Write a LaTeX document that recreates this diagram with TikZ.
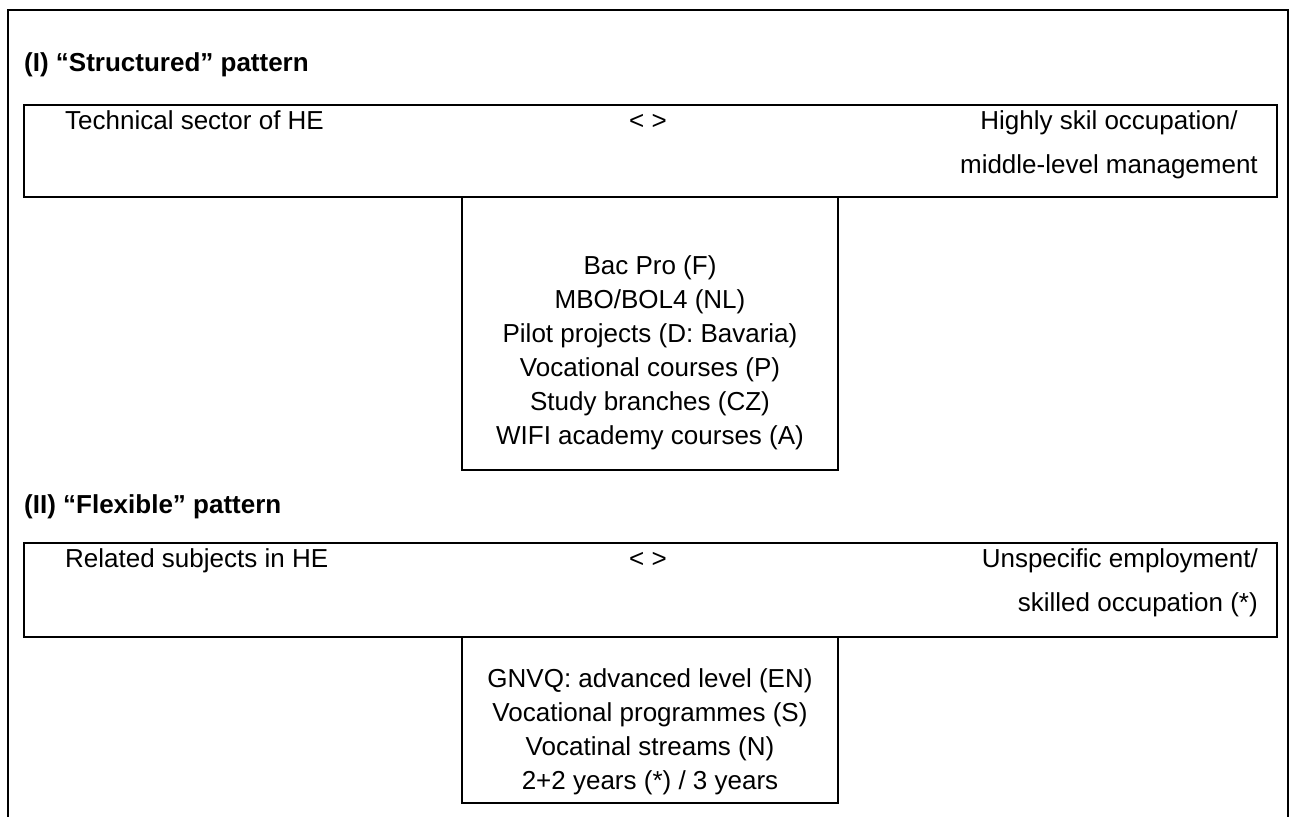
\documentclass[tikz,border=0pt]{standalone}
\usepackage{fontspec}
\setmainfont{Liberation Sans}
\begin{document}
\begin{tikzpicture}[x=1pt,y=-1pt,
  frame/.style={line width=2pt},
  panel/.style={draw, line width=1.5pt, rectangle, inner sep=0pt},
  txt/.style={inner sep=0pt, font=\fontsize{26}{34}\selectfont},
  head/.style={inner sep=0pt, anchor=base west, font=\fontsize{26}{34}\selectfont\bfseries},
]
\useasboundingbox (0,0) rectangle (1294,817);

% outer frame, open at the bottom
\draw[frame] (8,817) -- (8,10) -- (1288,10) -- (1288,817);

% (I) structured pattern
% (multi-line nodes: the base anchor sits on the last line)
\node[head] (h1) at (24,71) {(I) “Structured” pattern};
\node[panel, minimum width=1253pt, minimum height=92pt] (row1) at (650.5,151) {};
\node[panel, minimum width=376pt, minimum height=273pt] (list1) at (650,333.5) {};
\node[txt, anchor=base west] (he1) at (65,129) {Technical sector of HE};
\node[txt, anchor=base] (rel1) at (648,129) {< >};
\node[txt, align=center, anchor=base east] (job1) at (1258,173)
  {Highly skil occupation/\\[10pt]middle-level management};
\node[txt, align=center, anchor=base] (ex1) at (650,444)
  {Bac Pro (F)\\MBO/BOL4 (NL)\\Pilot projects (D: Bavaria)\\Vocational courses (P)\\Study branches (CZ)\\WIFI academy courses (A)};

% (II) flexible pattern
\node[head] (h2) at (24,513) {(II) “Flexible” pattern};
\node[panel, minimum width=1253pt, minimum height=94pt] (row2) at (650.5,590) {};
\node[panel, minimum width=376pt, minimum height=166pt] (list2) at (650,720) {};
\node[txt, anchor=base west] (he2) at (65,567) {Related subjects in HE};
\node[txt, anchor=base] (rel2) at (648,567) {< >};
\node[txt, align=right, anchor=base east] (job2) at (1258,611)
  {Unspecific employment/\\[10pt]skilled occupation (*)};
\node[txt, align=center, anchor=base] (ex2) at (650,789)
  {GNVQ: advanced level (EN)\\Vocational programmes (S)\\Vocatinal streams (N)\\2+2 years (*) / 3 years};
\end{tikzpicture}
\end{document}
